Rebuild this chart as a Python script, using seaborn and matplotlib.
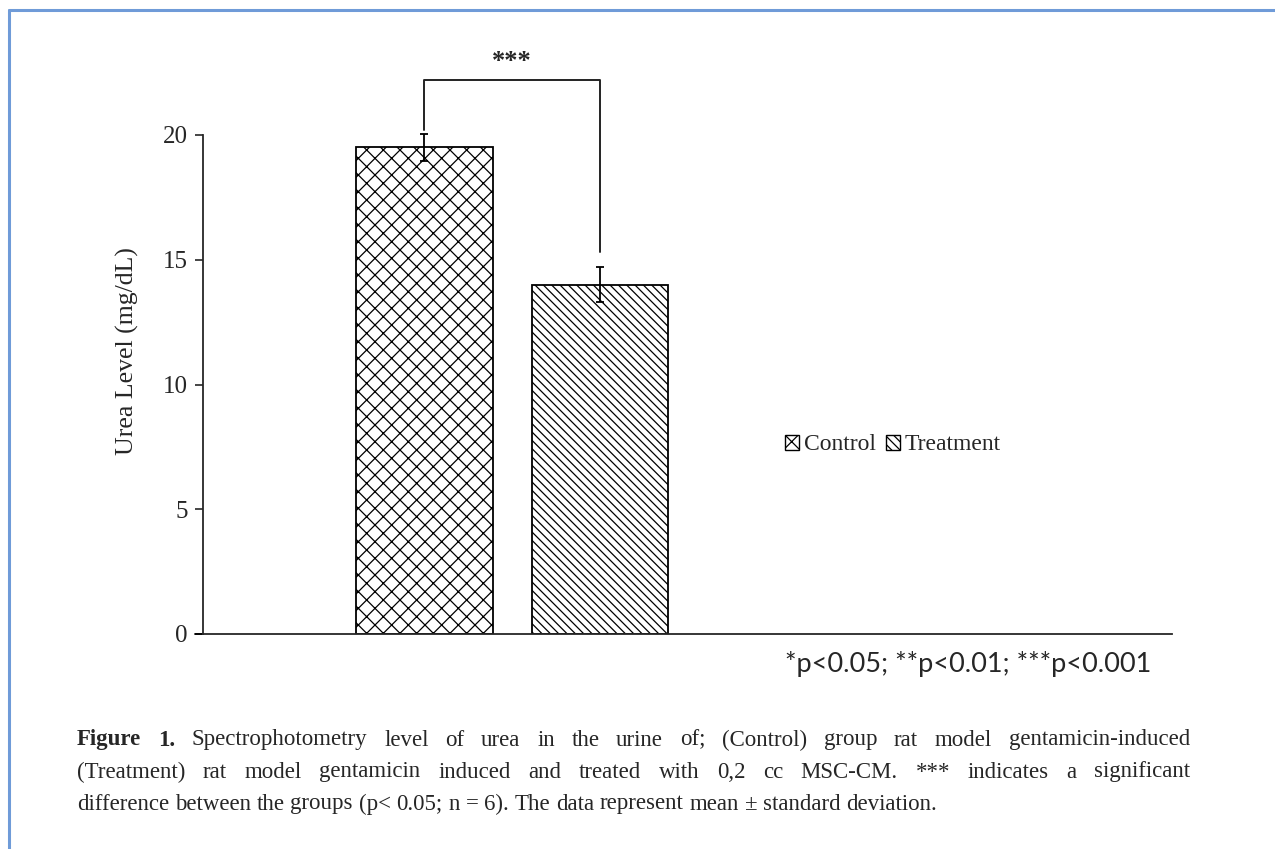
import matplotlib
matplotlib.use("Agg")
import matplotlib.pyplot as plt
from matplotlib.patches import Patch
from matplotlib.lines import Line2D
import seaborn as sns
import pandas as pd

# data
groups = ["Control", "Treatment"]
urea_mean = [19.5, 14.0]
urea_sd = [0.55, 0.7]
hatches = ["xx", "\\\\\\\\"]
yticks = [0, 5, 10, 15, 20]
sig_label = "***"
p_note = "*p<0.05; **p<0.01; ***p<0.001"
caption_lines = [
    "Figure 1. Spectrophotometry level of urea in the urine of; (Control) group rat model gentamicin-induced",
    "(Treatment) rat model gentamicin induced and treated with 0,2 cc MSC-CM. *** indicates a significant",
    "difference between the groups (p< 0.05; n = 6). The data represent mean \u00b1 standard deviation.",
]

df = pd.DataFrame({"group": groups, "urea": urea_mean})

sns.set_style("ticks")
plt.rcParams["font.family"] = ["Liberation Serif", "DejaVu Serif"]
plt.rcParams["hatch.linewidth"] = 0.9

W, H = 1275, 849
fig = plt.figure(figsize=(12.75, 8.49), dpi=100)
ax = fig.add_axes([203 / W, 1 - 634 / H, (1172 - 203) / W, (634 - 135) / H])

sns.barplot(data=df, x="group", y="urea", hue="group", order=groups,
            hue_order=groups, palette=["white", "white"], width=0.78,
            errorbar=None, legend=False, ax=ax)
for bar, h in zip(ax.patches, hatches):
    bar.set_edgecolor("black")
    bar.set_linewidth(1.3)
    bar.set_hatch(h)

ax.errorbar(x=[0, 1], y=urea_mean, yerr=urea_sd, fmt="none", ecolor="black",
            elinewidth=1.3, capsize=3, capthick=1.3, clip_on=False, zorder=5)

ax.set_xlim(-1.262, 4.259)
ax.set_ylim(0, 20)
ax.set_yticks(yticks)
ax.set_xticks([])
ax.set_xlabel("")
ax.set_ylabel("")
ax.tick_params(axis="y", labelsize=18, length=6, width=1.2, pad=5)
sns.despine(ax=ax)
ax.spines["left"].set_linewidth(1.3)
ax.spines["bottom"].set_linewidth(1.3)

fig.text(127 / W, 1 - 351 / H, "Urea Level (mg/dL)", rotation=90, ha="center",
         va="center", fontsize=18.5)

# x-axis line sticks out a bit to the left of the y spine, like the original
ax.plot([-1.31, -1.262], [0, 0], color="black", lw=1.3, clip_on=False)

# significance bracket
bx = [0, 0, 1, 1]
by = [20.2, 22.2, 22.2, 15.3]
ax.plot(bx, by, color="#222222", lw=1.4, clip_on=False)
ax.text(0.5, 22.5, sig_label, ha="center", va="bottom", fontsize=19,
        fontweight="bold", clip_on=False)

handles = [Patch(facecolor="white", edgecolor="black", hatch=h, label=g)
           for g, h in zip(groups, hatches)]
fig.legend(handles=handles, loc="center", bbox_to_anchor=(893 / W, 1 - 445 / H),
           ncol=2, frameon=False, fontsize=17, handlelength=0.6, handleheight=0.6,
           handletextpad=0.2, columnspacing=0.4)

fig.text(785 / W, 1 - 664 / H, p_note, ha="left", va="center",
         fontsize=19.5, family=["Lato", "DejaVu Sans"])

# caption: first two lines justified between x0 and x1, last one left aligned
renderer = fig.canvas.get_renderer()
x0, x1 = 77, 1190
line_y = [740, 772, 804]
cap_size = 16.5
for i, (text, y) in enumerate(zip(caption_lines, line_y)):
    words = text.split(" ")
    arts = []
    for j, w in enumerate(words):
        bold = i == 0 and j < 2
        arts.append(fig.text(0, 1 - y / H, w, ha="left", va="center",
                             fontsize=cap_size, fontweight="bold" if bold else "normal"))
    widths = [a.get_window_extent(renderer).width for a in arts]
    if i < len(caption_lines) - 1:
        gap = (x1 - x0 - sum(widths)) / (len(words) - 1)
    else:
        gap = fig.text(0, 0, " ", fontsize=cap_size).get_window_extent(renderer).width
    x = x0
    for a, wd in zip(arts, widths):
        a.set_x(x / W)
        x += wd + gap

# blue frame lines (top and left)
fig.add_artist(Line2D([9 / W, 1], [1 - 10 / H] * 2, color="#6f9bd8", lw=2.2))
fig.add_artist(Line2D([9 / W] * 2, [0, 1 - 10 / H], color="#6f9bd8", lw=2.2))

fig.savefig("out.png", dpi=100)
